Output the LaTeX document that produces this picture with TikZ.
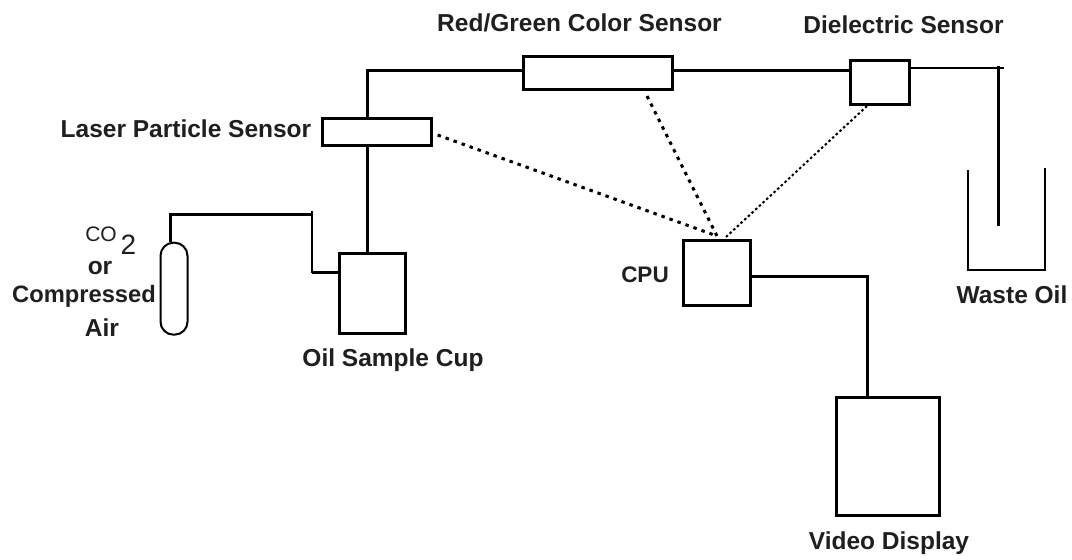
\documentclass[tikz,border=0pt]{standalone}
\usepackage{fontspec}
\setmainfont{Liberation Sans}
\tikzset{
 boxn/.style={draw=black,line width=3pt,fill=white,inner sep=0pt},
 lab/.style={font=\fontsize{24.5}{28}\selectfont\bfseries,inner sep=0pt,align=center,text=black!88},
 wire/.style={line width=3pt,draw=black},
 thinwire/.style={line width=2pt,draw=black},
 dotone/.style={line width=3pt,dash pattern=on 3.5pt off 5pt},
 dottwo/.style={line width=2pt,dash pattern=on 2.5pt off 2.5pt},
}
\begin{document}
\begin{tikzpicture}[x=1pt,y=-1pt]
\useasboundingbox (0,0) rectangle (1072,560);
\fill[white] (0,0) rectangle (1072,560);
\coordinate (tl) at (367,70);
\coordinate (cy1) at (170,214);
\coordinate (cy2) at (312,214);
\coordinate (cy2t) at (312,211);
\coordinate (cy3) at (312,272.5);
\coordinate (d0) at (1004,68);
\coordinate (d1) at (998,66);
\coordinate (d2) at (998,226);
\coordinate (v1) at (867,276);
\node[boxn,minimum width=149pt,minimum height=33pt] (red) at (598,73) {};
\node[boxn,minimum width=58.5pt,minimum height=44pt] (die) at (880,82.5) {};
\node[boxn,minimum width=109pt,minimum height=27pt] (las) at (377,132) {};
\node[boxn,minimum width=65.5pt,minimum height=80pt] (cup) at (372.7,293.3) {};
\node[boxn,minimum width=67.5pt,minimum height=64.5pt] (cpu) at (717.2,273) {};
\node[boxn,minimum width=103pt,minimum height=118pt] (vid) at (888,456.5) {};
\node[draw=black,line width=2pt,fill=white,rounded corners=13pt,minimum width=27pt,minimum height=92pt,inner sep=0pt] (cyl) at (174,288.7) {};
\draw[wire] (cup.north -| tl) -- (las.south -| tl);
\draw[wire] (las.north -| tl) -- (tl) -- (red.west |- tl);
\draw[wire] (red.east |- tl) -- (die.west |- tl);
\draw[thinwire] (die.east |- d0) -- (d0);
\draw[wire] (d1) -- (d2);
\draw[wire] (cyl.north -| cy1) -- (cy1) -- (cy2);
\draw[thinwire] (cy2t) -- (cy3);
\draw[wire] (cy3) -- (cup.west |- cy3);
\draw[wire] (cpu.east |- v1) -- (v1) -- (vid.north -| v1);
\coordinate (cpt) at (717,236);
\coordinate (rs) at (647,96);
\coordinate (ds) at (867,106);
\coordinate (ce) at (726,237);
\coordinate (ls) at (437.6,135);
\draw[dotone] (ls) -- (cpt);
\draw[dotone] (rs) -- (cpt);
\draw[dottwo] (ds) -- (ce);
\coordinate (w1) at (968,170);
\coordinate (w2) at (968,270);
\coordinate (w3) at (1045,270);
\coordinate (w4) at (1045,168);
\draw[thinwire,line width=2.4pt] (w1) -- (w2) -- (w3) -- (w4);
\node[lab] (t1) at (579.5,23) {Red/Green Color Sensor};
\node[lab] (t2) at (903.5,25) {Dielectric Sensor};
\node[lab] (t3) at (186,129) {Laser Particle Sensor};
\node[lab] (t4) at (393,360) {Oil Sample Cup};
\node[lab,font=\fontsize{22.5}{26}\selectfont\bfseries] (t5) at (645,275) {CPU};
\node[lab] (t6) at (1012,295) {Waste Oil};
\node[lab] (t7) at (889,543) {Video Display};
\node[lab,font=\fontsize{21}{24}\selectfont] (t8) at (101,234) {CO};
\node[lab,font=\fontsize{28}{30}\selectfont] (t8b) at (128.5,245) {2};
\node[lab] (t9) at (100,268) {or};
\node[lab,font=\fontsize{23.7}{27}\selectfont\bfseries] (t10) at (84,296) {Compressed};
\node[lab] (t11) at (102,328) {Air};
\end{tikzpicture}
\end{document}
